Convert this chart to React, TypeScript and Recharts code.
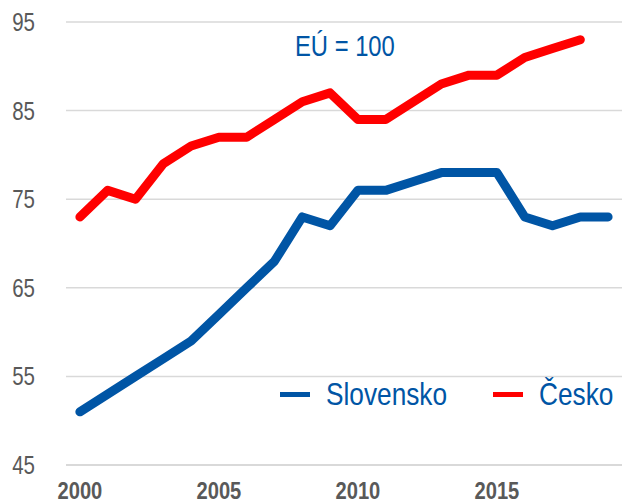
import { LineChart, Line, XAxis, YAxis, CartesianGrid } from 'recharts';

const years = [2000, 2001, 2002, 2003, 2004, 2005, 2006, 2007, 2008, 2009, 2010, 2011, 2012, 2013, 2014, 2015, 2016, 2017, 2018, 2019];
const slovensko = [51, 53, 55, 57, 59, 62, 65, 68, 73, 72, 76, 76, 77, 78, 78, 78, 73, 72, 73, 73];
const cesko = [73, 76, 75, 79, 81, 82, 82, 84, 86, 87, 84, 84, 86, 88, 89, 89, 91, 92, 93, null];
const yTicks = [45, 55, 65, 75, 85, 95];
const xTicks = [2000, 2005, 2010, 2015];

const data = years.map((year, i) => ({ year, slovensko: slovensko[i], cesko: cesko[i] }));

// no narrow font installed, so squeeze Liberation Sans horizontally
const FONT = "'Liberation Sans', Arial, sans-serif";
const SQUEEZE = 0.82;
const BLUE = '#0055a5';
const RED = '#ff0000';
const GREY = '#595959';

const series = [
  { key: 'slovensko', name: 'Slovensko', color: BLUE },
  { key: 'cesko', name: 'Česko', color: RED },
];

function YTick({ x, y, payload }: any) {
  return (
    <g transform={`translate(${x},${y})`}>
      <text transform={`scale(${SQUEEZE},1)`} textAnchor="end" dy="0.36em" fill={GREY} fontSize={25} fontFamily={FONT}>
        {payload.value}
      </text>
    </g>
  );
}

function XTick({ x, y, payload }: any) {
  return (
    <g transform={`translate(${x},${y})`}>
      <text transform={`scale(0.84,1)`} textAnchor="middle" dy="0.71em" fill={GREY} fontSize={24} fontWeight="bold" fontFamily={FONT}>
        {payload.value}
      </text>
    </g>
  );
}

const squeezed = { fontFamily: FONT, transform: `scaleX(${SQUEEZE})`, transformOrigin: 'left center', whiteSpace: 'nowrap' as const };

export default function App() {
  return (
    <div style={{ position: 'absolute', left: 0, top: 0, width: 623, height: 504, background: '#fff' }}>
      <LineChart width={623} height={504} data={data} margin={{ top: 22, right: 1, bottom: 0, left: 0 }}>
        <CartesianGrid vertical={false} stroke="#d9d9d9" strokeWidth={1.5} />
        <XAxis
          dataKey="year"
          type="number"
          domain={[1999.5, 2019.5]}
          ticks={xTicks}
          height={39}
          tickSize={0}
          tickMargin={17}
          axisLine={{ stroke: '#d9d9d9', strokeWidth: 2 }}
          tick={<XTick />}
        />
        <YAxis
          domain={[45, 95]}
          ticks={yTicks}
          width={66}
          tickSize={0}
          tickMargin={31}
          axisLine={false}
          tick={<YTick />}
        />
        {series.map((s) => (
          <Line
            key={s.key}
            dataKey={s.key}
            name={s.name}
            stroke={s.color}
            strokeWidth={9}
            strokeLinecap="round"
            strokeLinejoin="round"
            dot={false}
            isAnimationActive={false}
          />
        ))}
      </LineChart>
      <div style={{ position: 'absolute', left: 295, top: 29, fontSize: 29, lineHeight: '34px', color: BLUE, ...squeezed }}>
        EÚ = 100
      </div>
      <div style={{ position: 'absolute', left: 280, top: 374, height: 40, display: 'flex', alignItems: 'center' }}>
        {series.map((s, i) => (
          <div key={s.key} style={{ display: 'flex', alignItems: 'center', marginLeft: i > 0 ? 47 : 0 }}>
            <span style={{ display: 'inline-block', width: 30, height: 5, background: s.color, marginRight: 16 }} />
            <span style={{ display: 'inline-block', fontSize: 32, lineHeight: '40px', color: BLUE, width: s.name.length > 6 ? 120 : 73, ...squeezed }}>
              {s.name}
            </span>
          </div>
        ))}
      </div>
    </div>
  );
}
